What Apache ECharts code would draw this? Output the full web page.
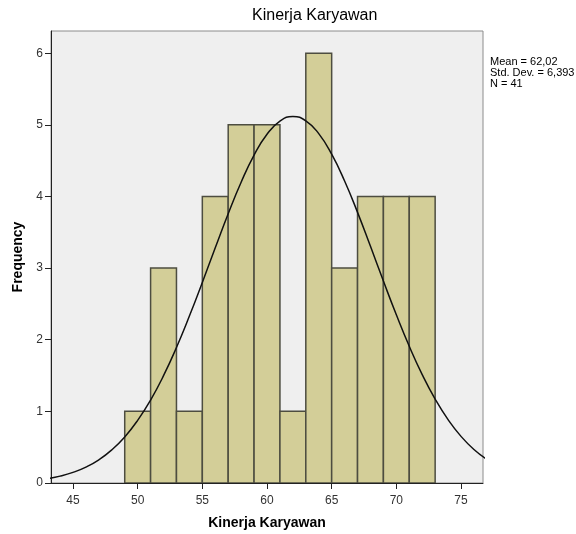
<!DOCTYPE html>
<html><head><meta charset="utf-8">
<script src="https://cdn.jsdelivr.net/npm/echarts@6/dist/echarts.min.js"></script>
<style>html,body{margin:0;padding:0;background:#fff}#c{width:576px;height:534px}</style>
</head><body><div id="c"></div>
<script>
// Histogram bins (lower edge, upper edge) and frequencies
const binStarts = [49, 51, 53, 55, 57, 59, 61, 63, 65, 67, 69, 71];
const binEnds   = [51, 53, 55, 57, 59, 61, 63, 65, 67, 69, 71, 73];
const frequencies = [1, 3, 1, 4, 5, 5, 1, 6, 3, 4, 4, 4];
// Normal curve
const curveX = [43,44,45,46,47,48,49,50,51,52,53,54,55,56,57,58,59,60,61,62,63,64,65,66,67,68,69,70,71,72,73,74,75,76,77];
const curveY = [0.061,0.096,0.148,0.222,0.324,0.462,0.643,0.874,1.158,1.498,1.891,2.330,2.800,3.284,3.760,4.199,4.577,4.868,5.052,5.117,5.057,4.877,4.590,4.216,3.778,3.304,2.819,2.348,1.908,1.513,1.171,0.884,0.651,0.468,0.329];
const xTicks = [45, 50, 55, 60, 65, 70, 75];
const yTicks = [0, 1, 2, 3, 4, 5, 6];
const statsLines = ['Mean = 62,02', 'Std. Dev. = 6,393', 'N = 41'];
const titleText = 'Kinerja Karyawan';
const xTitle = 'Kinerja Karyawan';
const yTitle = 'Frequency';

const chart = echarts.init(document.getElementById('c'), null, {renderer: 'canvas'});
const font = 'Liberation Sans, Arial, sans-serif';
const histData = binStarts.map((s, i) => [s, binEnds[i], frequencies[i]]);
const curveData = curveX.map((x, i) => [x, curveY[i]]);

chart.setOption({
  animation: false,
  backgroundColor: '#fff',
  grid: {left: 51, top: 31, right: 93, bottom: 51, outerBoundsMode: 'none', containLabel: false,
         show: true, backgroundColor: '#EFEFEF', borderColor: '#8c8c8c', borderWidth: 1},
  xAxis: {
    type: 'value', min: 43.3, max: 76.7,
    name: xTitle, nameLocation: 'middle', nameGap: 33,
    nameTextStyle: {fontFamily: font, fontSize: 14, fontWeight: 'bold', color: '#000'},
    axisLine: {show: true, onZero: false, lineStyle: {color: '#222', width: 1}},
    axisTick: {show: true, inside: false, length: 6, customValues: xTicks, lineStyle: {color: '#222'}},
    axisLabel: {customValues: xTicks, margin: 12, fontFamily: font, fontSize: 12, color: '#333'},
    splitLine: {show: false}
  },
  yAxis: {
    type: 'value', min: 0, max: 6.31,
    name: yTitle, nameLocation: 'middle', nameGap: 24,
    nameTextStyle: {fontFamily: font, fontSize: 14, fontWeight: 'bold', color: '#000'},
    axisLine: {show: true, lineStyle: {color: '#222', width: 1}},
    axisTick: {show: true, inside: false, length: 6, customValues: yTicks, lineStyle: {color: '#222'}},
    axisLabel: {customValues: yTicks, margin: 8, fontFamily: font, fontSize: 12, color: '#333'},
    splitLine: {show: false}
  },
  graphic: [
    {type: 'text', left: 252, top: 8, style: {text: titleText, font: '16px ' + font, fill: '#000'}},
    {type: 'text', left: 490, top: 56, style: {text: statsLines.join('\n'), font: '11px ' + font, lineHeight: 11, fill: '#000'}}
  ],
  series: [
    {
      type: 'custom',
      data: histData,
      encode: {x: [0, 1], y: 2},
      clip: true,
      renderItem: function (params, api) {
        const p0 = api.coord([api.value(0), api.value(2)]);
        const p1 = api.coord([api.value(1), 0]);
        return {
          type: 'rect',
          shape: {x: p0[0], y: p0[1], width: p1[0] - p0[0], height: p1[1] - p0[1]},
          style: {fill: '#D3CE98', stroke: '#4d4d40', lineWidth: 1.5}
        };
      },
      z: 2
    },
    {
      type: 'line', data: curveData, smooth: true, showSymbol: false, clip: true,
      lineStyle: {color: '#111', width: 1.5}, z: 3
    }
  ]
});
</script></body></html>
